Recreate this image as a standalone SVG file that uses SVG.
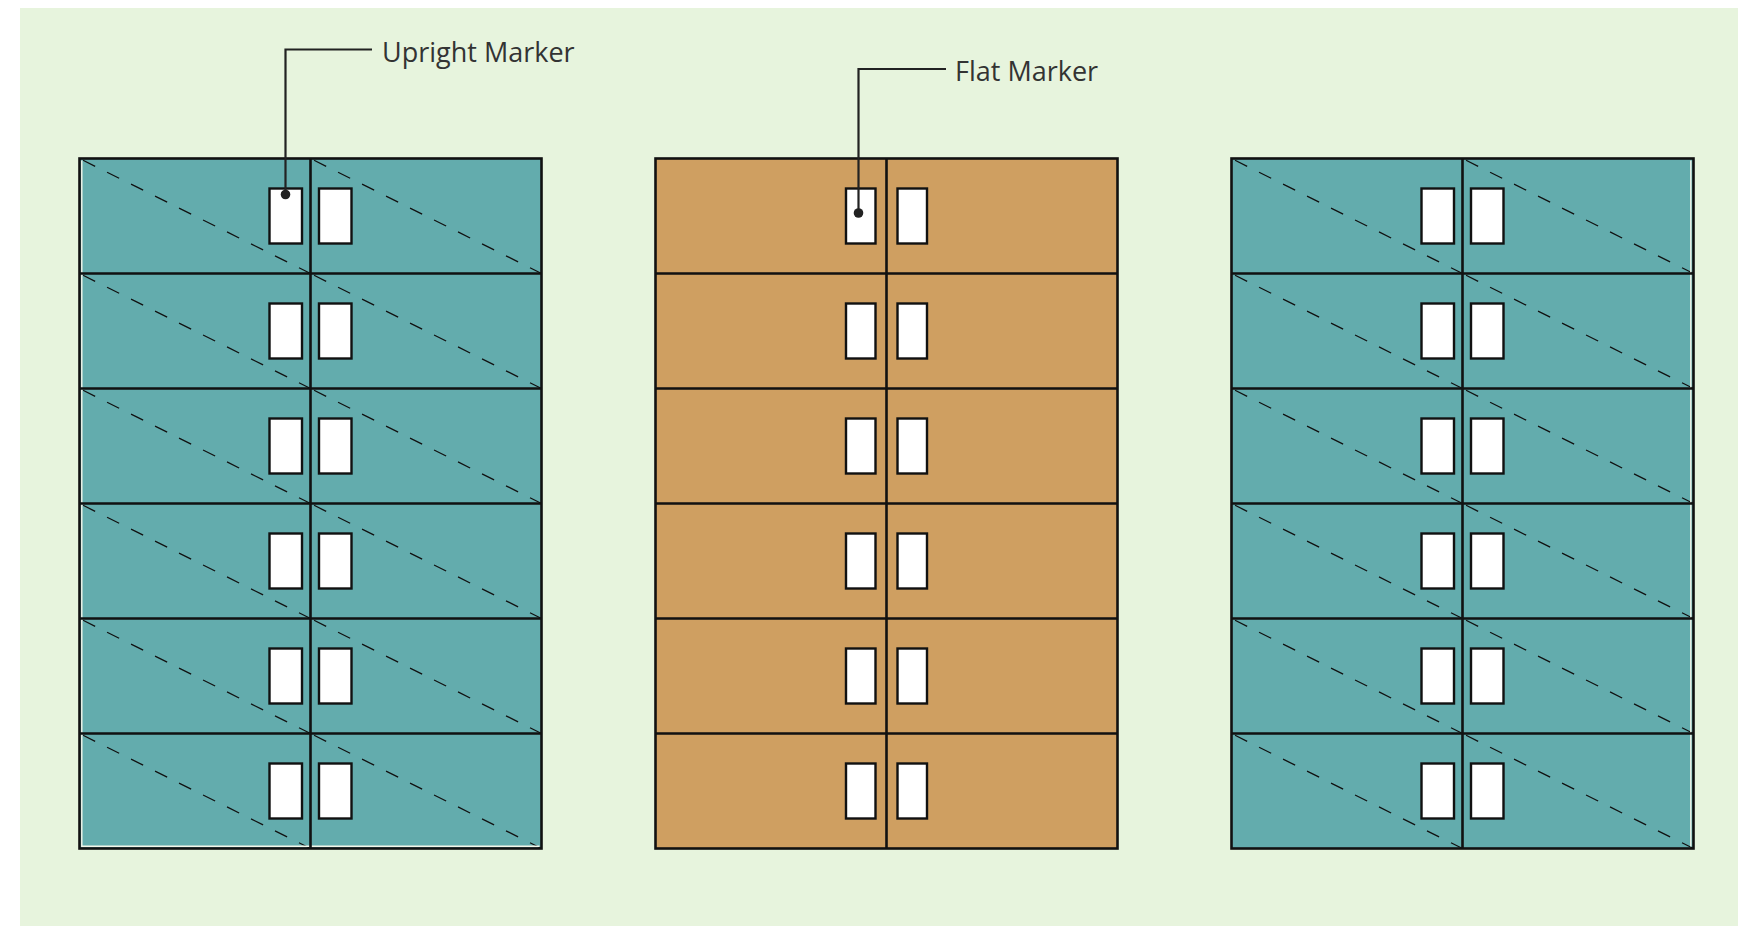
<svg xmlns="http://www.w3.org/2000/svg" xmlns:xlink="http://www.w3.org/1999/xlink" width="1738" height="926" viewBox="0 0 1738 926">
<style>
.bg{fill:#E7F4DD}
.teal{fill:#63ACAD}
.tan{fill:#CF9F61}
.frame{fill:none;stroke:#111;stroke-width:2.6}
.line{stroke:#111;stroke-width:2.6;fill:none}
.dash{stroke:#111;stroke-width:1.3;fill:none;stroke-dasharray:13.5 13.3;stroke-dashoffset:22.8}
.win{fill:#fff;stroke:#111;stroke-width:2.4}
.edge{stroke:#F3F6EA;stroke-width:1.4;fill:none}
.lead{stroke:#222;stroke-width:2.2;fill:none}
.dot{fill:#222}
.lbl{font-family:"Open Sans","Liberation Sans",sans-serif;font-size:27px;fill:#333}
</style>
<defs>
<g id="tealRow">
<path class="dash" d="M0,0 L231,115"/>
<path class="dash" d="M231,0 L462,115"/>
<rect class="win" x="190" y="30" width="32.5" height="55"/>
<rect class="win" x="239.5" y="30" width="32.5" height="55"/>
</g>
<g id="tanRow">
<rect class="win" x="190.5" y="30" width="29.5" height="55"/>
<rect class="win" x="242" y="30" width="29.5" height="55"/>
</g>
<path id="grid" class="line" d="M0,115 H462 M0,230 H462 M0,345 H462 M0,460 H462 M0,575 H462 M231,0 V690"/>
</defs>
<rect class="bg" x="20" y="8" width="1718" height="918"/>
<g id="panel-left" transform="translate(79.5,158.5)">
<rect class="teal" x="0" y="0" width="462" height="690"/>
<use xlink:href="#tealRow" y="0"/>
<use xlink:href="#tealRow" y="115"/>
<use xlink:href="#tealRow" y="230"/>
<use xlink:href="#tealRow" y="345"/>
<use xlink:href="#tealRow" y="460"/>
<use xlink:href="#tealRow" y="575"/>
<path class="edge" d="M2.3,2 V687.7 H460"/>
<use xlink:href="#grid"/>
<rect class="frame" x="0" y="0" width="462" height="690"/>
</g>
<g id="panel-middle" transform="translate(655.5,158.5)">
<rect class="tan" x="0" y="0" width="462" height="690"/>
<use xlink:href="#tanRow" y="0"/>
<use xlink:href="#tanRow" y="115"/>
<use xlink:href="#tanRow" y="230"/>
<use xlink:href="#tanRow" y="345"/>
<use xlink:href="#tanRow" y="460"/>
<use xlink:href="#tanRow" y="575"/>
<use xlink:href="#grid"/>
<rect class="frame" x="0" y="0" width="462" height="690"/>
</g>
<g id="panel-right" transform="translate(1231.5,158.5)">
<rect class="teal" x="0" y="0" width="462" height="690"/>
<use xlink:href="#tealRow" y="0"/>
<use xlink:href="#tealRow" y="115"/>
<use xlink:href="#tealRow" y="230"/>
<use xlink:href="#tealRow" y="345"/>
<use xlink:href="#tealRow" y="460"/>
<use xlink:href="#tealRow" y="575"/>
<path class="edge" d="M459.3,2 V688"/>
<use xlink:href="#grid"/>
<rect class="frame" x="0" y="0" width="462" height="690"/>
</g>
<g id="connectors">
<path class="lead" d="M285.5,194.5 V49.5 H372"/>
<circle class="dot" cx="285.5" cy="194.5" r="4.8"/>
<path class="lead" d="M858.5,213 V69 H946"/>
<circle class="dot" cx="858.5" cy="213" r="4.8"/>
</g>
<g id="label-upright"><text class="lbl" x="382" y="62">Upright Marker</text></g>
<g id="label-flat"><text class="lbl" x="955" y="81">Flat Marker</text></g>
</svg>
